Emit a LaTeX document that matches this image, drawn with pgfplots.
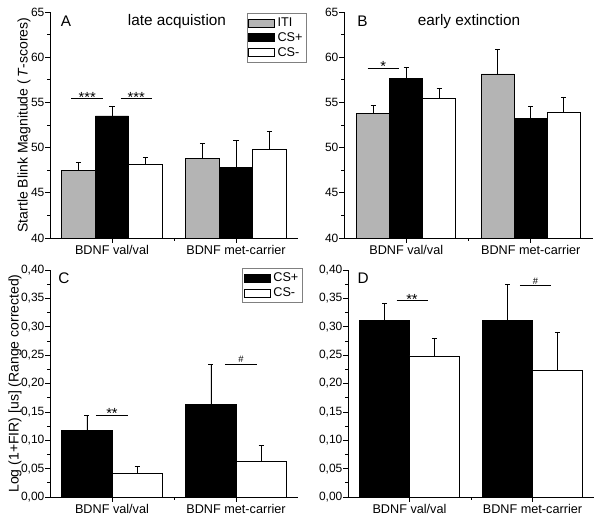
\documentclass[border=0pt]{standalone}
\usepackage{fontspec}
\setmainfont{Liberation Sans}
\usepackage{pgfplots}
\pgfplotsset{compat=1.18}
\definecolor{cITI}{HTML}{B4B4B4}

\pgfplotsset{
  panel/.style={
    scale only axis, anchor=origin,
    axis x line*=bottom, axis y line*=left,
    xmin=0.5, xmax=2.5,
    xtick={1,2}, xticklabels={BDNF val/val, BDNF met-carrier},
    minor xtick={1.5},
    tick align=outside,
    major tick length=3.5pt, minor tick length=2pt,
    tick style={black, line width=0.5pt},
    axis line style={black, line width=0.6pt},
    xticklabel style={font=\fontsize{9.5}{11}\selectfont, inner sep=1.5pt},
    yticklabel style={font=\fontsize{9}{11}\selectfont, inner sep=0.5pt},
    label style={font=\fontsize{10.5}{12}\selectfont},
    /pgf/number format/assume math mode=true,
    minor y tick num=1,
    legend style={draw=gray, line width=0.5pt, font=\fontsize{9.5}{11}\selectfont,
      inner sep=1pt, row sep=-1pt, anchor=north east, legend cell align=left},
  },
  tscore/.style={ymin=40, ymax=65, ytick={40,45,...,65}},
  fir/.style={ymin=0, ymax=0.4, ytick={0,0.05,...,0.4},
    yticklabel style={/pgf/number format/.cd, fixed, fixed zerofill, precision=2, use comma}},
  bar/.style={ybar, bar shift=0pt, draw=black, line width=0.5pt,
    error bars/y dir=plus, error bars/y explicit,
    error bars/error mark options={rotate=90, black, mark size=1.9pt, line width=0.5pt},
    error bars/error bar style={black, line width=0.5pt}},
  leg/.style={legend image code/.code={\draw[#1] (0pt,-3pt) rectangle (19.5pt,3pt);}},
  sig/.style={black, line width=0.6pt, forget plot},
}
\tikzset{stars/.style={font=\fontsize{11}{12}\selectfont, anchor=base, inner sep=0pt, yshift=-2.6pt}}

\begin{document}
\begin{tikzpicture}
\useasboundingbox (0,0) rectangle (450pt,391.5pt);

% A: late acquisition
\begin{axis}[panel, tscore, at={(37.5pt,213pt)}, width=186pt, height=169.5pt,
  ylabel={Startle Blink Magnitude (\,\textit{T}-scores)},
  ylabel style={at={(axis description cs:-0.105,0.5)}, anchor=center},
  legend style={at={(1.036,0.994)}}]
\addplot[bar, leg, fill=cITI, bar width=0.27]
  coordinates {(0.73,47.50) +- (0,0.84) (1.73,48.78) +- (0,1.72)};
\addplot[bar, leg, fill=black, bar width=0.27]
  coordinates {(1,53.50) +- (0,1.08) (2,47.82) +- (0,2.95)};
\addplot[bar, leg, fill=white, bar width=0.27]
  coordinates {(1.27,48.12) +- (0,0.81) (2.27,49.78) +- (0,2.07)};
\legend{ITI, CS+, CS-}
\addplot[sig] coordinates {(0.67,55.4) (0.93,55.4)};
\addplot[sig] coordinates {(1.07,55.4) (1.32,55.4)};
\node[stars] at (axis cs:0.80,55.4) {***};
\node[stars] at (axis cs:1.195,55.4) {***};
\node[anchor=west, font=\fontsize{11.5}{13}\selectfont] at (rel axis cs:0.025,0.96) {A};
\node[font=\fontsize{11.5}{13}\selectfont] at (rel axis cs:0.512,0.96) {late acquistion};
\end{axis}

% B: early extinction
\begin{axis}[panel, tscore, at={(258pt,213pt)}, width=186.75pt, height=169.5pt]
\addplot[bar, fill=cITI, bar width=0.265]
  coordinates {(0.735,53.75) +- (0,0.88) (1.735,58.16) +- (0,2.69)};
\addplot[bar, fill=black, bar width=0.265]
  coordinates {(1,57.68) +- (0,1.22) (2,53.20) +- (0,1.32)};
\addplot[bar, fill=white, bar width=0.265]
  coordinates {(1.265,55.48) +- (0,1.12) (2.265,53.86) +- (0,1.74)};
\addplot[sig] coordinates {(0.69,58.8) (0.94,58.8)};
\node[stars] at (axis cs:0.815,58.8) {*};
\node[anchor=west, font=\fontsize{11.5}{13}\selectfont] at (rel axis cs:0.035,0.96) {B};
\node[font=\fontsize{11.5}{13}\selectfont] at (rel axis cs:0.502,0.96) {early extinction};
\end{axis}

% C
\begin{axis}[panel, fir, at={(37.5pt,18.75pt)}, width=186pt, height=170.25pt,
  ylabel={Log (1+FIR) [us] (Range corrected)},
  ylabel style={at={(axis description cs:-0.141,0.5)}, anchor=center},
  legend style={at={(1.019,1.007)}}]
\addplot[bar, leg, fill=black, bar width=0.405]
  coordinates {(0.7975,0.1167) +- (0,0.0276) (1.7975,0.1636) +- (0,0.0704)};
\addplot[bar, leg, fill=white, bar width=0.405]
  coordinates {(1.2025,0.0422) +- (0,0.0112) (2.2025,0.0633) +- (0,0.0282)};
\legend{CS+, CS-}
\addplot[sig] coordinates {(0.87,0.1443) (1.13,0.1443)};
\addplot[sig] coordinates {(1.91,0.234) (2.17,0.234)};
\node[stars] at (axis cs:1.0,0.1443) {**};
\node[font=\fontsize{7}{8}\selectfont, anchor=south, inner sep=1pt] at (axis cs:2.04,0.234) {\#};
\node[anchor=west, font=\fontsize{11.5}{13}\selectfont] at (rel axis cs:0.015,0.965) {C};
\end{axis}

% D
\begin{axis}[panel, fir, at={(261pt,18.75pt)}, width=184.5pt, height=170.25pt]
\addplot[bar, fill=black, bar width=0.405]
  coordinates {(0.7975,0.3109) +- (0,0.0304) (1.7975,0.3110) +- (0,0.0638)};
\addplot[bar, fill=white, bar width=0.405]
  coordinates {(1.2025,0.2487) +- (0,0.0311) (2.2025,0.2240) +- (0,0.0669)};
\addplot[sig] coordinates {(0.895,0.346) (1.15,0.346)};
\addplot[sig] coordinates {(1.897,0.3724) (2.154,0.3724)};
\node[stars] at (axis cs:1.02,0.346) {**};
\node[font=\fontsize{7}{8}\selectfont, anchor=south, inner sep=1pt] at (axis cs:2.025,0.3724) {\#};
\node[anchor=west, font=\fontsize{11.5}{13}\selectfont] at (rel axis cs:0.02,0.965) {D};
\end{axis}
\end{tikzpicture}
\end{document}
